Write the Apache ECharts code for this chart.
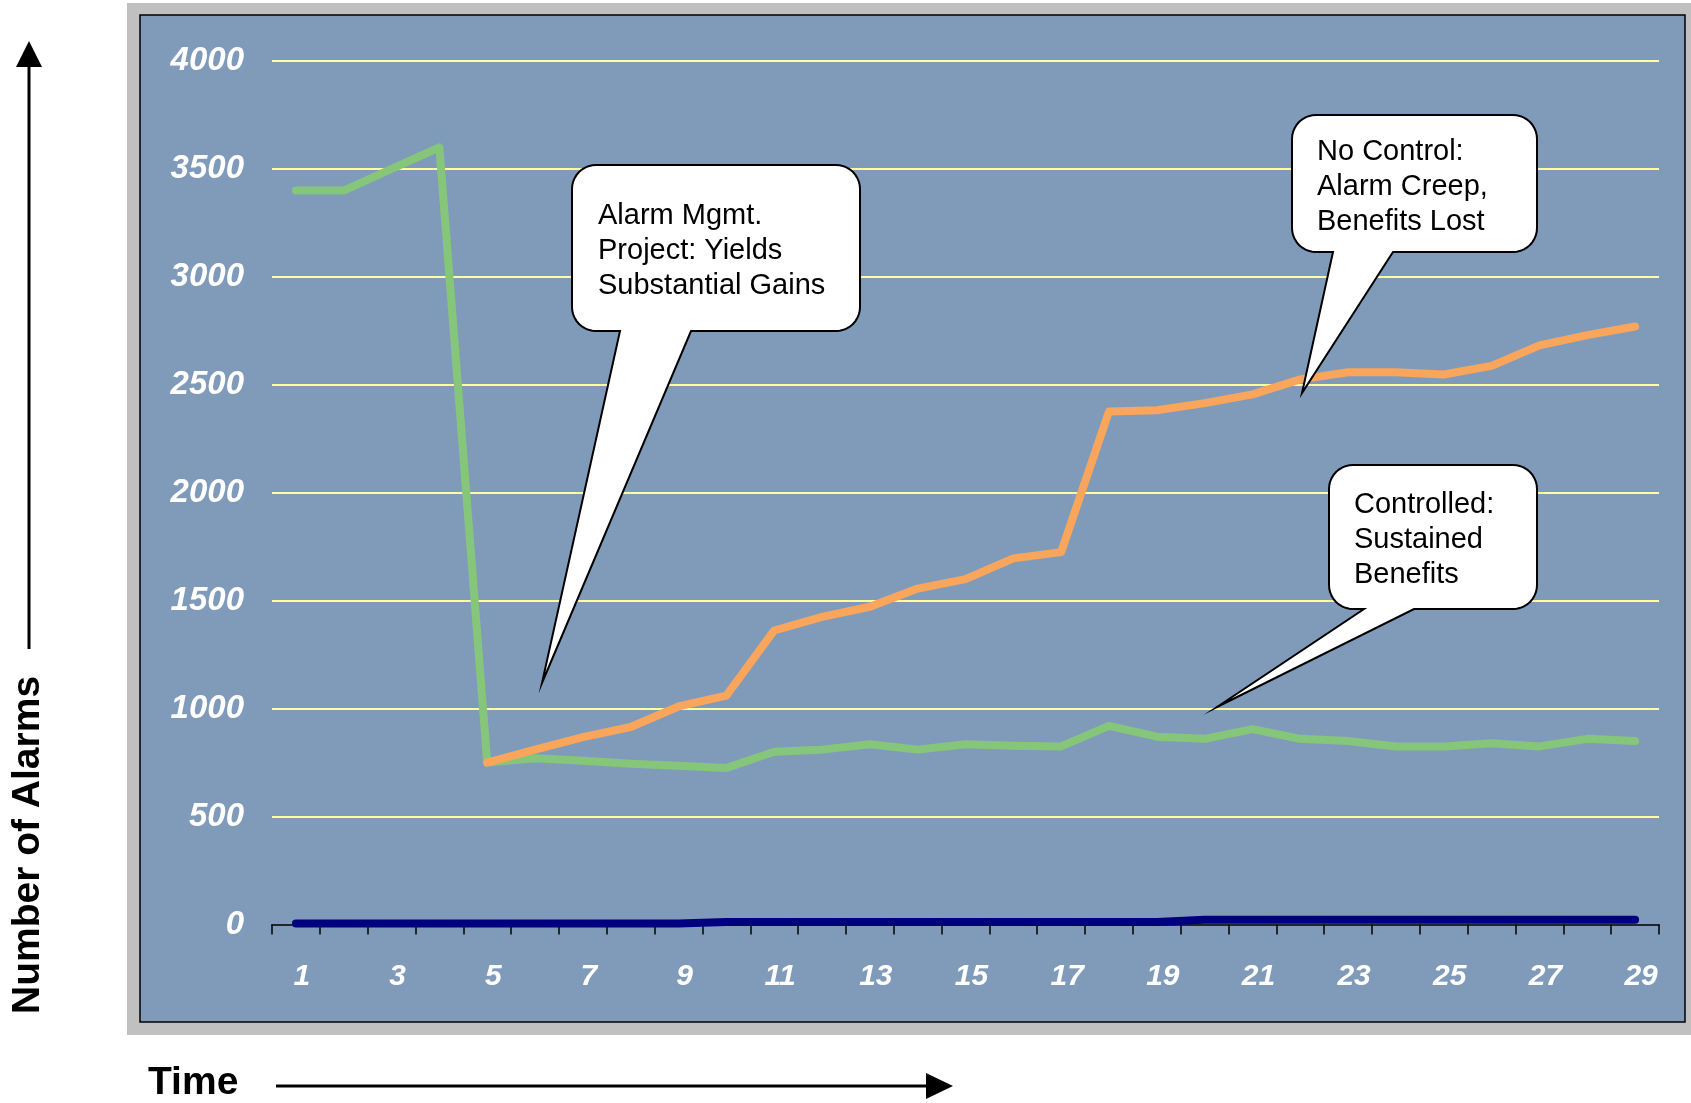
<!DOCTYPE html>
<html>
<head>
<meta charset="utf-8">
<script src="https://cdn.jsdelivr.net/npm/echarts@6/dist/echarts.min.js"></script>
<style>
html,body{margin:0;padding:0;background:#fff;}
#chart{width:1691px;height:1103px;}
</style>
</head>
<body>
<div id="chart"></div>
<script>
// ---- data ----
var categories = ['1','2','3','4','5','6','7','8','9','10','11','12','13','14','15','16','17','18','19','20','21','22','23','24','25','26','27','28','29'];
var controlledValues = [3400,3400,3500,3600,750,770,758,745,735,725,800,810,835,810,835,828,825,920,870,860,905,860,850,825,825,840,825,860,850];
var noControlValues = ['-','-','-','-',750,810,868,915,1010,1060,1362,1425,1472,1556,1600,1696,1725,2376,2382,2415,2456,2525,2558,2558,2548,2588,2683,2730,2770];
var baselineValues = [5,5,5,5,5,5,5,5,5,12,12,12,12,12,12,12,12,12,12,22,22,22,22,22,22,22,22,22,22];
var yAxisMin = 0, yAxisMax = 4000, yAxisStep = 500;
var yAxisTitle = 'Number of Alarms';
var xAxisTitle = 'Time';
var callout1Lines = ['Alarm Mgmt.', 'Project: Yields', 'Substantial Gains'];
var callout2Lines = ['No Control:', 'Alarm Creep,', 'Benefits Lost'];
var callout3Lines = ['Controlled:', 'Sustained', 'Benefits'];

var FONT = "'Liberation Sans', Arial, Helvetica, sans-serif";

function arcPts(cx, cy, r, a0, a1, pts) {
  var n = 10;
  for (var i = 0; i <= n; i++) {
    var a = a0 + (a1 - a0) * i / n;
    pts.push([cx + r * Math.cos(a), cy + r * Math.sin(a)]);
  }
}
function calloutPoints(x0, y0, x1, y1, r, bx0, bx1, tx, ty) {
  var pts = [];
  var P = Math.PI;
  arcPts(x1 - r, y0 + r, r, -P / 2, 0, pts);      // top-right
  arcPts(x1 - r, y1 - r, r, 0, P / 2, pts);       // bottom-right
  pts.push([bx1, y1]);
  pts.push([tx, ty]);
  pts.push([bx0, y1]);
  arcPts(x0 + r, y1 - r, r, P / 2, P, pts);       // bottom-left
  arcPts(x0 + r, y0 + r, r, P, 1.5 * P, pts);     // top-left
  return pts;
}

function callout(box, tail, textPos, lines) {
  return [
    {
      type: 'polygon', z: 100,
      shape: { points: calloutPoints(box[0], box[1], box[2], box[3], 24, tail[0], tail[1], tail[2], tail[3]) },
      style: { fill: '#ffffff', stroke: '#000000', lineWidth: 2, lineJoin: 'miter', miterLimit: 20 }
    },
    {
      type: 'text', z: 101, x: textPos[0], y: textPos[1],
      style: {
        text: lines.join('\n'), fill: '#000000',
        font: '29px ' + FONT, lineHeight: 35,
        textAlign: 'left', textVerticalAlign: 'top'
      }
    }
  ];
}

var chart = echarts.init(document.getElementById('chart'), null, { renderer: 'canvas' });

var graphics = [
  { type: 'rect', z: -10, shape: { x: 127, y: 3, width: 1570, height: 1032 }, style: { fill: '#C0C0C0' } },
  { type: 'rect', z: -9, shape: { x: 140, y: 15, width: 1545, height: 1007 }, style: { fill: '#809BB9', stroke: '#000000', lineWidth: 1.5 } },
  // y-axis title and arrow
  { type: 'text', z: 50, x: 28, y: 1014, rotation: Math.PI / 2,
    style: { text: yAxisTitle, fill: '#000', font: 'bold 39px ' + FONT, textAlign: 'left', textVerticalAlign: 'middle' } },
  { type: 'line', z: 50, shape: { x1: 29, y1: 649, x2: 29, y2: 64 }, style: { stroke: '#000', lineWidth: 3 } },
  { type: 'polygon', z: 50, shape: { points: [[29, 41], [16, 67], [42, 67]] }, style: { fill: '#000' } },
  // x-axis title and arrow
  { type: 'text', z: 50, x: 148, y: 1083,
    style: { text: xAxisTitle, fill: '#000', font: 'bold 39px ' + FONT, textAlign: 'left', textVerticalAlign: 'middle' } },
  { type: 'line', z: 50, shape: { x1: 276, y1: 1086, x2: 930, y2: 1086 }, style: { stroke: '#000', lineWidth: 3 } },
  { type: 'polygon', z: 50, shape: { points: [[953, 1086], [926, 1073], [926, 1099]] }, style: { fill: '#000' } }
];
graphics = graphics
  .concat(callout([572, 165, 860, 331], [620, 691, 542, 683], [598, 198], callout1Lines))
  .concat(callout([1292, 115, 1537, 252], [1333, 1393, 1302, 393], [1317, 134], callout2Lines))
  .concat(callout([1329, 465, 1537, 609], [1364, 1414, 1217, 707], [1354, 487], callout3Lines));

var option = {
  backgroundColor: '#ffffff',
  animation: false,
  grid: { left: 272, right: 32, top: 61, bottom: 178.5, containLabel: false },
  xAxis: {
    type: 'category',
    data: categories,
    boundaryGap: true,
    axisLine: { show: true, lineStyle: { color: '#000', width: 1.5 } },
    axisTick: { show: true, interval: 0, length: 10, lineStyle: { color: '#000', width: 1.5 } },
    axisLabel: {
      interval: 1, margin: 37, color: '#fff', padding: [0, 0, 0, 12],
      fontSize: 30, fontWeight: 'bold', fontStyle: 'italic', fontFamily: FONT
    },
    splitLine: { show: false }
  },
  yAxis: {
    type: 'value',
    min: yAxisMin, max: yAxisMax, interval: yAxisStep,
    axisLine: { show: false },
    axisTick: { show: false },
    axisLabel: {
      margin: 28, color: '#fff',
      formatter: function (v) { return String(v); },
      fontSize: 33, fontWeight: 'bold', fontStyle: 'italic', fontFamily: FONT
    },
    splitLine: { show: true, showMinLine: false, lineStyle: { color: '#FFFF99', width: 2 } }
  },
  series: [
    { name: 'Controlled', type: 'line', data: controlledValues, symbol: 'none', z: 3,
      lineStyle: { color: '#85C67A', width: 8, cap: 'round', join: 'round' } },
    { name: 'No Control', type: 'line', data: noControlValues, symbol: 'none', z: 4,
      lineStyle: { color: '#F9A55C', width: 8, cap: 'round', join: 'round' } },
    { name: 'Baseline', type: 'line', data: baselineValues, symbol: 'none', z: 5,
      lineStyle: { color: '#000080', width: 8, cap: 'round', join: 'round' } }
  ],
  graphic: graphics
};
chart.setOption(option);
</script>
</body>
</html>
